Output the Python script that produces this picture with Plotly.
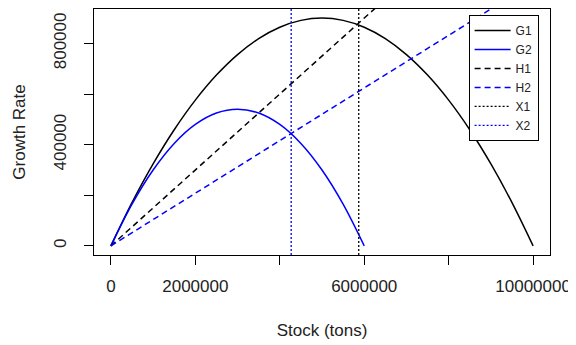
import plotly.graph_objects as go

# ---- data ----
stock_g1 = [0, 500000, 1000000, 1500000, 2000000, 2500000, 3000000, 3500000, 4000000,
            4500000, 5000000, 5500000, 6000000, 6500000, 7000000, 7500000, 8000000,
            8500000, 9000000, 9500000, 10000000]
growth_g1 = [0, 171000, 324000, 459000, 576000, 675000, 756000, 819000, 864000,
             891000, 900000, 891000, 864000, 819000, 756000, 675000, 576000,
             459000, 324000, 171000, 0]

stock_g2 = [0, 500000, 1000000, 1500000, 2000000, 2500000, 3000000, 3500000, 4000000,
            4500000, 5000000, 5500000, 6000000]
growth_g2 = [0, 165000, 300000, 405000, 480000, 525000, 540000, 525000, 480000,
             405000, 300000, 165000, 0]

stock_h = [0, 10000000]
harvest_h1 = [0, 1500000]
harvest_h2 = [0, 1040000]

x1_stock = 5870000
x2_stock = 4270000

x_range = [-400000, 10400000]
y_range = [-36000, 936000]

x_tickvals = [0, 2000000, 4000000, 6000000, 8000000, 10000000]
x_ticktext = ["0", "2000000", "", "6000000", "", "10000000"]
y_tickvals = [0, 200000, 400000, 600000, 800000]
y_ticktext = ["0", "", "400000", "", "800000"]

BLUE = "#0000FF"
FONT = "Liberation Sans, Arial, sans-serif"

fig = go.Figure()
fig.add_trace(go.Scatter(x=stock_g1, y=growth_g1, mode="lines", name="G1",
                         line=dict(color="black", width=1.5, shape="spline")))
fig.add_trace(go.Scatter(x=stock_g2, y=growth_g2, mode="lines", name="G2",
                         line=dict(color=BLUE, width=1.5, shape="spline")))
fig.add_trace(go.Scatter(x=stock_h, y=harvest_h1, mode="lines", name="H1",
                         line=dict(color="black", width=1.5, dash="6px,4px")))
fig.add_trace(go.Scatter(x=stock_h, y=harvest_h2, mode="lines", name="H2",
                         line=dict(color=BLUE, width=1.5, dash="6px,4px")))
fig.add_trace(go.Scatter(x=[x1_stock, x1_stock], y=y_range, mode="lines", name="X1",
                         line=dict(color="black", width=1.3, dash="2px,2px")))
fig.add_trace(go.Scatter(x=[x2_stock, x2_stock], y=y_range, mode="lines", name="X2",
                         line=dict(color=BLUE, width=1.3, dash="2px,2px")))

axis_common = dict(
    showline=True, mirror=True, linecolor="black", linewidth=1.3,
    ticks="outside", ticklen=9, tickwidth=1, tickcolor="black",
    showgrid=False, zeroline=False, automargin=False,
    tickfont=dict(family=FONT, size=17, color="#222"),
)

fig.update_xaxes(range=x_range, tickvals=x_tickvals, ticktext=x_ticktext,
                 title=dict(text="Stock (tons)", font=dict(family=FONT, size=17, color="#222"),
                            standoff=29),
                 ticklabelstandoff=6, **axis_common)
fig.update_yaxes(range=y_range, tickvals=y_tickvals, ticktext=y_ticktext, tickangle=-90,
                 title=dict(text="Growth Rate", font=dict(family=FONT, size=17, color="#222"),
                            standoff=21),
                 ticklabelstandoff=11, **axis_common)

# the page body has an 8px margin, so the figure is sized to fit the 576x345 window
fig.update_layout(
    width=568, height=337,
    margin=dict(l=86, r=26, t=1, b=90, autoexpand=False),
    plot_bgcolor="white", paper_bgcolor="white",
    font=dict(family=FONT, color="#222"),
    legend=dict(x=0.975, y=0.976, xanchor="right", yanchor="top",
                bordercolor="black", borderwidth=1, bgcolor="white",
                font=dict(family=FONT, size=12, color="#222"),
                itemwidth=36, tracegroupgap=0),
    showlegend=True,
)

fig.write_html("out.html")
